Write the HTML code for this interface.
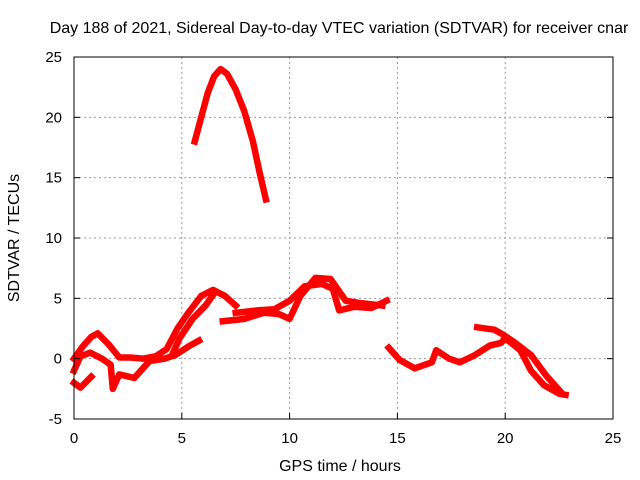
<!DOCTYPE html>
<html><head><meta charset="utf-8"><style>
body{margin:0;background:#fff}
svg{display:block;font-family:"Liberation Sans",sans-serif}
</style></head><body>
<svg id="chart" width="640" height="480" viewBox="0 0 640 480">
<text x="339" y="33" font-size="16" text-anchor="middle">Day 188 of 2021, Sidereal Day-to-day VTEC variation (SDTVAR) for receiver cnar</text>
<g id="grid"></g>
<g id="series"></g>
<rect x="74" y="57" width="539" height="362" fill="none" stroke="#000" stroke-width="1"/>
<g id="ticks"></g>
<text x="340" y="471" font-size="16" text-anchor="middle">GPS time / hours</text>
<text transform="translate(19,238) rotate(-90)" font-size="16" text-anchor="middle">SDTVAR / TECUs</text>
</svg>
<script>
const xTicks=[0,5,10,15,20,25];
const yTicks=[-5,0,5,10,15,20,25];
const arcSeries=[[5.6,18],[5.9,20],[6.2,22],[6.5,23.4],[6.8,24],[7.1,23.6],[7.5,22.3],[7.9,20.5],[8.3,18],[8.6,15.5],[8.9,13.2]];
const morningUpper=[[0,0],[0.4,1],[0.8,1.8],[1.1,2.1],[1.6,1.2],[2.1,0.1],[2.6,0.1],[3.2,0],[3.8,0.2],[4.3,0.8],[4.8,2.5],[5.3,3.8],[5.9,5.2],[6.45,5.7],[7,5.2],[7.5,4.4]];
const morningLower=[[0,-1],[0.3,0.2],[0.75,0.5],[1.3,0],[1.7,-0.5],[1.8,-2.5],[2.1,-1.3],[2.8,-1.6],[3.5,-0.2],[4.2,0],[4.7,0.3],[5.3,1],[5.8,1.5]];
const morningRise=[[4.6,0.5],[4.9,1.7],[5.5,3.3],[6.1,4.4],[6.5,5.4]];
const lowStub=[[0,-2],[0.3,-2.4],[0.8,-1.5]];
const middleA=[[6.9,3.1],[7.9,3.3],[8.8,3.8],[9.5,3.7],[10,3.3],[10.5,5.2],[11.2,6.7],[11.9,6.6],[12.6,4.8],[13.3,4.6],[14.3,4.4]];
const middleB=[[7.5,3.8],[8.5,4],[9.3,4.1],[10,4.8],[10.7,6],[11.5,6.2],[12,5.8],[12.3,4],[13,4.3],[13.8,4.2],[14.5,4.8]];
const eveningA=[[14.6,0.9],[15.1,-0.1],[15.8,-0.8],[16.6,-0.3],[16.8,0.7],[17.4,0],[17.9,-0.3],[18.6,0.3],[19.3,1.1],[19.8,1.3],[20,1.7],[20.7,0.7],[21.2,-1],[21.8,-2.2],[22.5,-2.9],[22.8,-3]];
const eveningB=[[18.7,2.6],[19.5,2.4],[19.9,2],[20.4,1.4],[21.2,0.3],[21.9,-1.4],[22.6,-2.8]];
const allSeries=[arcSeries,morningUpper,morningLower,morningRise,lowStub,middleA,middleB,eveningA,eveningB];
const names=['arc','morning-upper','morning-lower','morning-rise','low-stub','middle-a','middle-b','evening-a','evening-b'];
const X=h=>74+h*539/25, Y=v=>419-(v+5)*362/30;
const NS='http://www.w3.org/2000/svg';
const grid=document.getElementById('grid'),ticks=document.getElementById('ticks'),ser=document.getElementById('series');
function mk(tag,attrs,parent){const e=document.createElementNS(NS,tag);for(const k in attrs)e.setAttribute(k,attrs[k]);parent.appendChild(e);return e;}
xTicks.forEach(t=>{
 if(t>0&&t<25){const g=mk('line',{x1:X(t),x2:X(t),y1:57,y2:419,stroke:'#999','stroke-dasharray':'2,3'},grid);
 
 }
 const tk=mk('line',{x1:X(t),x2:X(t),y1:419,y2:413,stroke:'#000'},ticks);
 
 
 const l=mk('text',{x:X(t),y:443,'font-size':15,'text-anchor':'middle'},ticks);l.textContent=t;
 
 
});
yTicks.forEach(t=>{
 if(t>-5&&t<25){const g=mk('line',{x1:74,x2:613,y1:Y(t),y2:Y(t),stroke:'#999','stroke-dasharray':'2,3'},grid);
 
 }
 const tk=mk('line',{x1:74,x2:80,y1:Y(t),y2:Y(t),stroke:'#000'},ticks);
 
 
 const tk2=mk('line',{x1:607,x2:613,y1:Y(t),y2:Y(t),stroke:'#000'},ticks);
 
 
 const l=mk('text',{x:62,y:Y(t)+5,'font-size':15,'text-anchor':'end'},ticks);l.textContent=t;
 
 
});
allSeries.forEach((s,i)=>{
 const p=mk('polyline',{points:s.map(d=>X(d[0])+','+Y(d[1])).join(' '),fill:'none',stroke:'#f00','stroke-width':6.5,'stroke-linejoin':'round','stroke-linecap':'square'},ser);
 
 
});
</script>
</body></html>
